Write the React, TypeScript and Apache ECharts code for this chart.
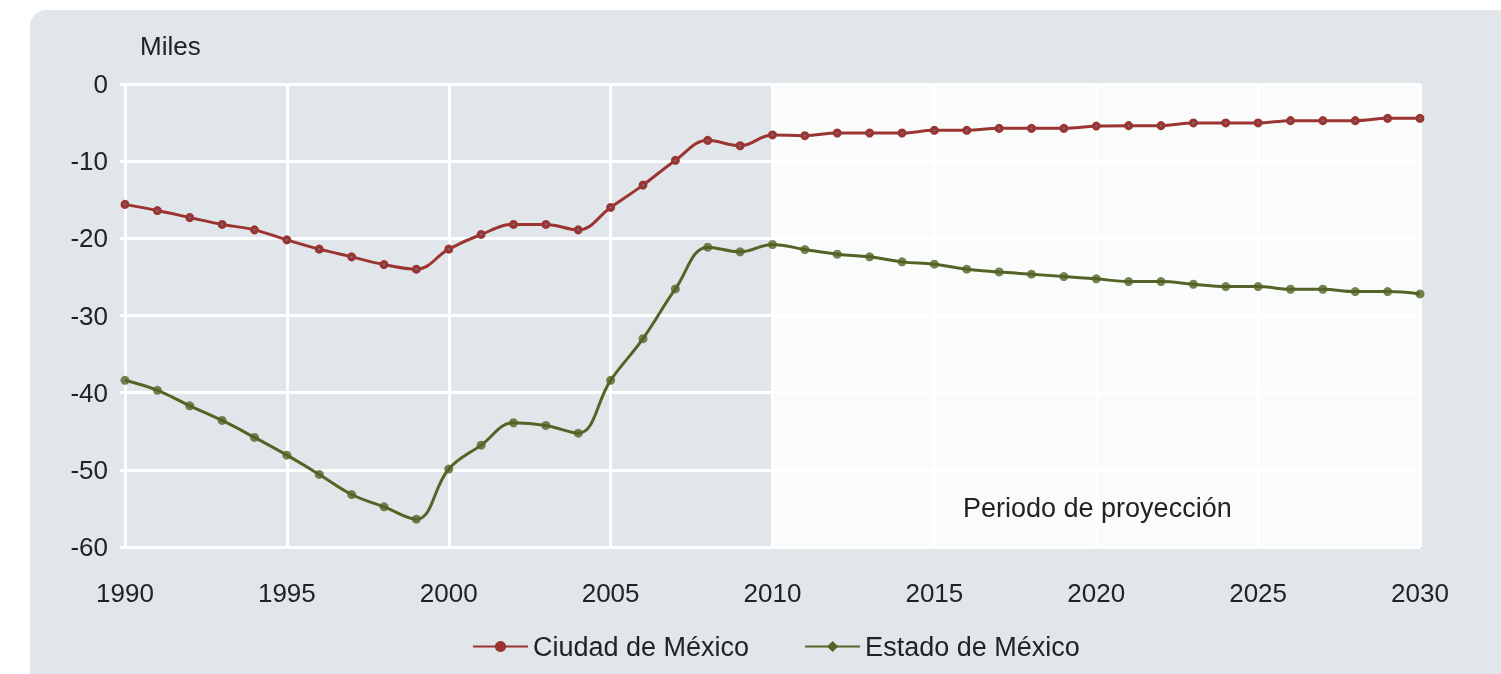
import React, { useEffect, useRef } from "react";
import * as echarts from "echarts";

const years: number[] = [];
for (let y = 1990; y <= 2030; y++) years.push(y);

const ciudad = [
  -15.6, -16.4, -17.3, -18.2, -18.9, -20.2, -21.4, -22.4, -23.4, -24.0,
  -21.4, -19.5, -18.2, -18.2, -18.9, -16.0, -13.1, -9.9, -7.3, -8.0,
  -6.6, -6.7, -6.35, -6.35, -6.35, -6.0, -6.0, -5.75, -5.75, -5.75,
  -5.45, -5.4, -5.4, -5.05, -5.05, -5.05, -4.75, -4.75, -4.75, -4.45, -4.45,
];

const estado = [
  -38.4, -39.7, -41.7, -43.6, -45.8, -48.1, -50.6, -53.2, -54.8, -56.4,
  -49.9, -46.8, -43.9, -44.25, -45.25, -38.4, -33.0, -26.55, -21.15, -21.75,
  -20.8, -21.45, -22.05, -22.4, -23.05, -23.35, -24.0, -24.35, -24.65, -24.95,
  -25.25, -25.6, -25.6, -25.95, -26.25, -26.25, -26.6, -26.6, -26.9, -26.9, -27.2,
];

const yTicks = [0, -10, -20, -30, -40, -50, -60];
const xTickYears = [1990, 1995, 2000, 2005, 2010, 2015, 2020, 2025, 2030];
const projection = [2010, 2030];

const RED = "#9a3531";
const GREEN = "#526426";
const FONT = "'Liberation Sans', Arial, sans-serif";
const TXT = "#222222";

export default function App() {
  const ref = useRef<HTMLDivElement>(null);
  useEffect(() => {
    if (!ref.current) return;
    const chart = echarts.init(ref.current, undefined, { renderer: "svg" });
    const pairs = (arr: number[]) => years.map((y, i) => [y, arr[i]]);
    chart.setOption({
      animation: false,
      backgroundColor: "transparent",
      textStyle: { fontFamily: FONT },
      graphic: [
        {
          type: "rect",
          z: -10,
          shape: { x: 30, y: 10, width: 1500, height: 700, r: 16 },
          style: { fill: "#e1e6ea" },
          silent: true,
        },
        {
          type: "text",
          left: 140,
          top: 33,
          style: { text: "Miles", fontSize: 26, fill: TXT, fontFamily: FONT },
        },
        {
          type: "text",
          left: 963,
          top: 494,
          z: 10,
          style: { text: "Periodo de proyección", fontSize: 27, fill: TXT, fontFamily: FONT },
        },
      ],
      grid: { left: 125, right: 81, top: 84, bottom: 127 },
      legend: {
        left: 467,
        top: 628,
        itemWidth: 55,
        itemHeight: 14,
        itemGap: 55,
        textStyle: { fontSize: 27, color: TXT, fontFamily: FONT },
        data: [
          { name: "Ciudad de México", itemStyle: { color: RED, borderWidth: 0 } },
          { name: "Estado de México" },
        ],
      },
      xAxis: {
        type: "value",
        min: 1990,
        max: 2030,
        interval: 5,
        axisLine: { show: false },
        axisTick: { show: true, length: 5, lineStyle: { color: "#ffffff", width: 3 } },
        splitLine: { show: true, lineStyle: { color: "#ffffff", width: 3 } },
        axisLabel: {
          fontSize: 26,
          color: TXT,
          margin: 33,
          fontFamily: FONT,
          formatter: (v: number) => (xTickYears.includes(v) ? String(v) : ""),
        },
      },
      yAxis: {
        type: "value",
        min: -60,
        max: 0,
        interval: 10,
        axisLine: { show: true, lineStyle: { color: "#ffffff", width: 3 } },
        axisTick: { show: true, length: 5, lineStyle: { color: "#ffffff", width: 3 } },
        splitLine: { show: true, lineStyle: { color: "#ffffff", width: 3 } },
        axisLabel: {
          fontSize: 26,
          color: TXT,
          margin: 17,
          fontFamily: FONT,
          formatter: (v: number) => (yTicks.includes(v) ? String(v) : ""),
        },
      },
      series: [
        {
          name: "Ciudad de México",
          type: "line",
          data: pairs(ciudad),
          smooth: 0.4,
          symbol: "circle",
          symbolSize: 5.5,
          showSymbol: true,
          lineStyle: { color: RED, width: 3 },
          itemStyle: { color: "#6a7db0", borderColor: RED, borderWidth: 3.5 },
          markArea: {
            silent: true,
            itemStyle: { color: "rgba(255,255,255,0.82)" },
            data: [[{ xAxis: projection[0], yAxis: 0 }, { xAxis: projection[1], yAxis: -60 }]],
          },
          z: 3,
        },
        {
          name: "Estado de México",
          type: "line",
          data: pairs(estado),
          smooth: 0.4,
          symbol: "diamond",
          symbolSize: 14,
          showSymbol: false,
          lineStyle: { color: GREEN, width: 3 },
          itemStyle: { color: GREEN },
          z: 3,
        },
        {
          name: "estado-dots",
          type: "scatter",
          data: pairs(estado),
          symbol: "circle",
          symbolSize: 9,
          itemStyle: { color: GREEN },
          z: 4,
        },
      ],
    });
    return () => chart.dispose();
  }, []);
  return (
    <div
      ref={ref}
      style={{ position: "fixed", left: 0, top: 0, width: 1501, height: 674 }}
    />
  );
}
